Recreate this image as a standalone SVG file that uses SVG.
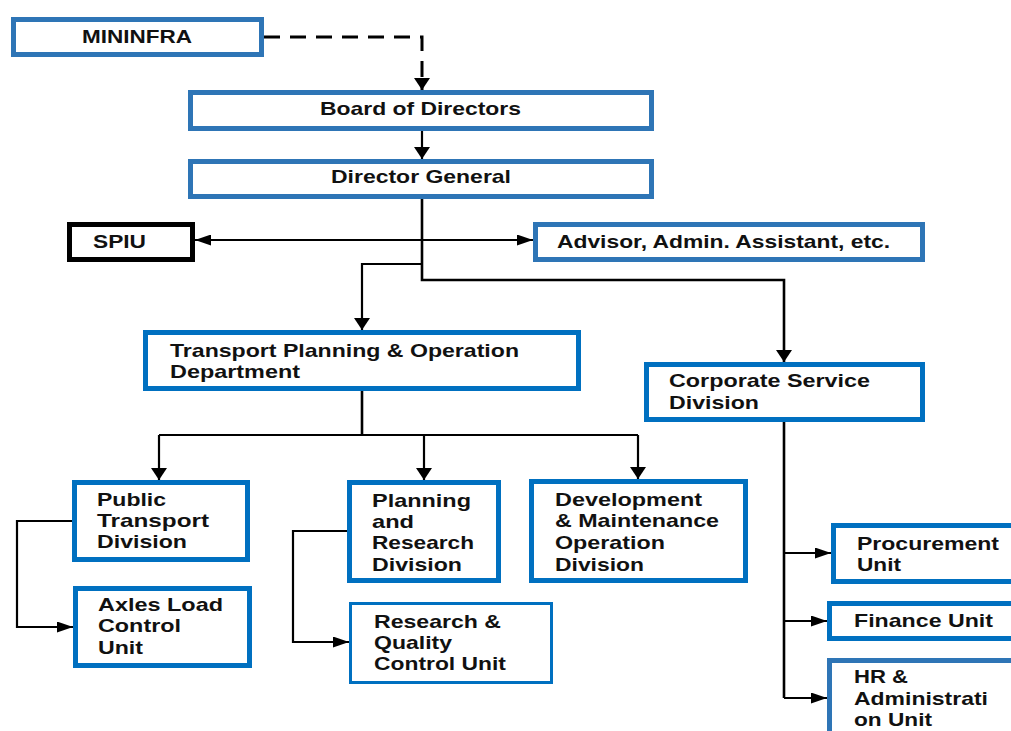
<svg xmlns="http://www.w3.org/2000/svg" width="1011" height="731" viewBox="0 0 1011 731">
  <style>
    .box { fill: #ffffff; stroke-width: 5; }
    .muted { stroke: #2e75b6; }
    .vivid { stroke: #0070c0; }
    .dark { stroke: #000000; }
    .thin { stroke-width: 3; }
    .lbl { font-family: "Liberation Sans", Arial, Helvetica, sans-serif; font-weight: bold; font-size: 19px; fill: #111111; }
    .wire { fill: none; stroke: #000000; stroke-width: 2.2; }
    .trunk { stroke-width: 2.6; }
    .dash { stroke-width: 3; stroke-dasharray: 16 10; }
  </style>
  <defs>
    <marker id="ah" markerUnits="userSpaceOnUse" markerWidth="17" markerHeight="11" refX="16" refY="5.5" orient="auto-start-reverse">
      <path d="M0,0 L16,5.5 L0,11 Z" fill="#000"/>
    </marker>
    <marker id="av" markerUnits="userSpaceOnUse" markerWidth="13" markerHeight="16" refX="12" refY="8" orient="auto">
      <path d="M0,0 L12,8 L0,16 Z" fill="#000"/>
    </marker>
  </defs>
  <rect x="0" y="0" width="1011" height="731" fill="#ffffff"/>

  <!-- connectors -->
  <g id="connectors">
    <path class="wire dash" d="M264,37 H422 V90" marker-end="url(#av)"/>
    <path class="wire" d="M422,131 V159" marker-end="url(#av)"/>
    <path class="wire trunk" d="M422,199 V280 H784 V362" marker-end="url(#av)"/>
    <path class="wire" d="M422,264 H362 V330" marker-end="url(#av)"/>
    <path class="wire" d="M195,240 H533" marker-start="url(#ah)" marker-end="url(#ah)"/>
    <path class="wire trunk" d="M362,391 V435"/>
    <path class="wire" d="M159,435 H638"/>
    <path class="wire" d="M159,435 V480" marker-end="url(#av)"/>
    <path class="wire" d="M424,435 V480" marker-end="url(#av)"/>
    <path class="wire" d="M638,435 V479" marker-end="url(#av)"/>
    <path class="wire" d="M72,521 H17 V627 H73" marker-end="url(#ah)"/>
    <path class="wire" d="M347,531 H293 V642 H349" marker-end="url(#ah)"/>
    <path class="wire trunk" d="M784,422 V698"/>
    <path class="wire" d="M784,553 H831" marker-end="url(#ah)"/>
    <path class="wire" d="M784,621 H827" marker-end="url(#ah)"/>
    <path class="wire" d="M784,698 H827" marker-end="url(#ah)"/>
  </g>

  <g id="mininfra">
    <rect class="box muted" x="13.5" y="19.5" width="248" height="35"/>
    <text class="lbl" x="82" y="43" textLength="110" lengthAdjust="spacingAndGlyphs">MININFRA</text>
  </g>
  <g id="board">
    <rect class="box muted" x="190.5" y="92.5" width="461" height="36"/>
    <text class="lbl" x="320" y="115" textLength="201" lengthAdjust="spacingAndGlyphs">Board of Directors</text>
  </g>
  <g id="director-general">
    <rect class="box muted" x="190.5" y="161.5" width="461" height="35"/>
    <text class="lbl" x="331" y="183" textLength="180" lengthAdjust="spacingAndGlyphs">Director General</text>
  </g>
  <g id="spiu">
    <rect class="box dark" x="69.5" y="224.5" width="123" height="35"/>
    <text class="lbl" x="93" y="248" textLength="53" lengthAdjust="spacingAndGlyphs">SPIU</text>
  </g>
  <g id="advisor">
    <rect class="box muted" x="535.5" y="224.5" width="387" height="35"/>
    <text class="lbl" x="557" y="248" textLength="333" lengthAdjust="spacingAndGlyphs">Advisor, Admin. Assistant, etc.</text>
  </g>
  <g id="transport-planning">
    <rect class="box vivid" x="145.5" y="332.5" width="433" height="56"/>
    <text class="lbl" x="170" y="357" textLength="349" lengthAdjust="spacingAndGlyphs">Transport Planning &amp; Operation</text>
    <text class="lbl" x="170" y="378" textLength="130" lengthAdjust="spacingAndGlyphs">Department</text>
  </g>
  <g id="corporate-service">
    <rect class="box vivid" x="646.5" y="364.5" width="276" height="55"/>
    <text class="lbl" x="669" y="387" textLength="201" lengthAdjust="spacingAndGlyphs">Corporate Service</text>
    <text class="lbl" x="669" y="409" textLength="90" lengthAdjust="spacingAndGlyphs">Division</text>
  </g>
  <g id="public-transport">
    <rect class="box vivid" x="74.5" y="482.5" width="173" height="77"/>
    <text class="lbl" x="97" y="506" textLength="69" lengthAdjust="spacingAndGlyphs">Public</text>
    <text class="lbl" x="97" y="527" textLength="112" lengthAdjust="spacingAndGlyphs">Transport</text>
    <text class="lbl" x="97" y="548" textLength="90" lengthAdjust="spacingAndGlyphs">Division</text>
  </g>
  <g id="planning-research">
    <rect class="box vivid" x="349.5" y="482.5" width="149" height="98"/>
    <text class="lbl" x="372" y="507" textLength="99" lengthAdjust="spacingAndGlyphs">Planning</text>
    <text class="lbl" x="372" y="528" textLength="42" lengthAdjust="spacingAndGlyphs">and</text>
    <text class="lbl" x="372" y="549" textLength="102" lengthAdjust="spacingAndGlyphs">Research</text>
    <text class="lbl" x="372" y="571" textLength="90" lengthAdjust="spacingAndGlyphs">Division</text>
  </g>
  <g id="development-maintenance">
    <rect class="box vivid" x="531.5" y="481.5" width="214" height="99"/>
    <text class="lbl" x="555" y="506" textLength="147" lengthAdjust="spacingAndGlyphs">Development</text>
    <text class="lbl" x="555" y="527" textLength="164" lengthAdjust="spacingAndGlyphs">&amp; Maintenance</text>
    <text class="lbl" x="555" y="549" textLength="110" lengthAdjust="spacingAndGlyphs">Operation</text>
    <text class="lbl" x="555" y="571" textLength="89" lengthAdjust="spacingAndGlyphs">Division</text>
  </g>
  <g id="axles-load">
    <rect class="box vivid" x="75.5" y="588.5" width="174" height="77"/>
    <text class="lbl" x="98" y="611" textLength="125" lengthAdjust="spacingAndGlyphs">Axles Load</text>
    <text class="lbl" x="98" y="632" textLength="83" lengthAdjust="spacingAndGlyphs">Control</text>
    <text class="lbl" x="98" y="654" textLength="45" lengthAdjust="spacingAndGlyphs">Unit</text>
  </g>
  <g id="research-quality">
    <rect class="box vivid thin" x="350.5" y="603.5" width="201" height="79"/>
    <text class="lbl" x="374" y="628" textLength="127" lengthAdjust="spacingAndGlyphs">Research &amp;</text>
    <text class="lbl" x="374" y="649" textLength="78" lengthAdjust="spacingAndGlyphs">Quality</text>
    <text class="lbl" x="374" y="670" textLength="132" lengthAdjust="spacingAndGlyphs">Control Unit</text>
  </g>
  <g id="procurement">
    <rect class="box vivid" x="833.5" y="525.5" width="200" height="56"/>
    <text class="lbl" x="857" y="550" textLength="142" lengthAdjust="spacingAndGlyphs">Procurement</text>
    <text class="lbl" x="857" y="571" textLength="44" lengthAdjust="spacingAndGlyphs">Unit</text>
  </g>
  <g id="finance">
    <rect class="box vivid" x="829.5" y="603.5" width="200" height="35"/>
    <text class="lbl" x="854" y="627" textLength="139" lengthAdjust="spacingAndGlyphs">Finance Unit</text>
  </g>
  <g id="hr-administration">
    <rect class="box muted" x="829.5" y="660.5" width="200" height="100"/>
    <text class="lbl" x="854" y="683" textLength="54" lengthAdjust="spacingAndGlyphs">HR &amp;</text>
    <text class="lbl" x="854" y="705" textLength="134" lengthAdjust="spacingAndGlyphs">Administrati</text>
    <text class="lbl" x="854" y="726" textLength="78" lengthAdjust="spacingAndGlyphs">on Unit</text>
  </g>
</svg>
